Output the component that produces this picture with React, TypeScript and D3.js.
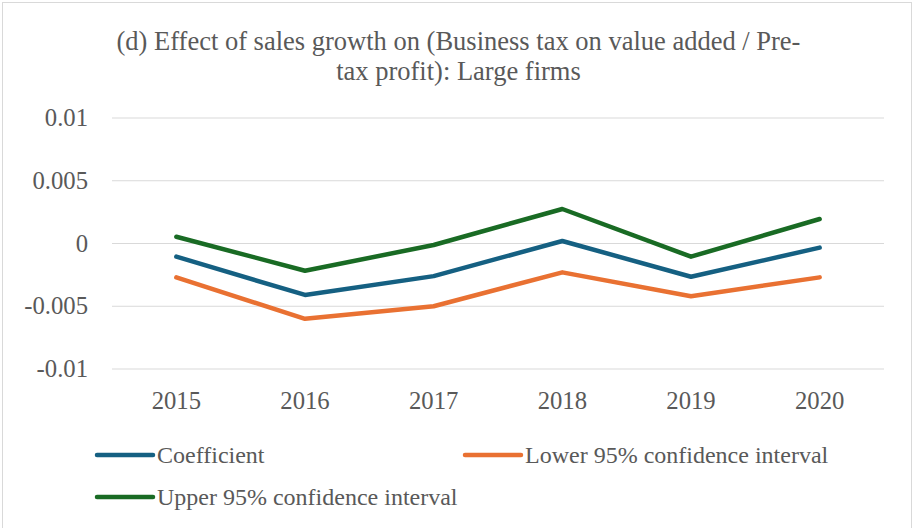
import React from "react";
import * as d3 from "d3";

const years = ["2015", "2016", "2017", "2018", "2019", "2020"];
const coefficient = [-0.00105, -0.0041, -0.0026, 0.0002, -0.00265, -0.00033];
const lower95 = [-0.0027, -0.006, -0.005, -0.0023, -0.0042, -0.0027];
const upper95 = [0.00054, -0.00217, -0.00012, 0.00275, -0.00105, 0.00195];
const yTicks = [0.01, 0.005, 0, -0.005, -0.01];
const yTickLabels = ["0.01", "0.005", "0", "-0.005", "-0.01"];
const titleLines = [
  "(d) Effect of sales growth on (Business tax on value added / Pre-",
  "tax profit): Large firms",
];

const seriesList = [
  { name: "Coefficient", values: coefficient, color: "#156082" },
  { name: "Lower 95% confidence interval", values: lower95, color: "#E97132" },
  { name: "Upper 95% confidence interval", values: upper95, color: "#196B24" },
];

const W = 913;
const H = 528;
const TEXT = "#595959";
const FONT = "'Liberation Serif', 'Times New Roman', serif";

export default function App() {
  const x = d3.scaleBand<string>().domain(years).range([112, 884]).padding(0);
  const y = d3.scaleLinear().domain([-0.01, 0.01]).range([369, 118]);
  const line = d3
    .line<number>()
    .x((_, i) => (x(years[i]) as number) + x.bandwidth() / 2)
    .y((v) => y(v));

  const legendPos = [
    { lx: 97, ly: 455 },
    { lx: 465, ly: 455 },
    { lx: 97, ly: 497 },
  ];
  const ts = { fontFamily: FONT };

  return (
    <svg
      width={W}
      height={H}
      style={{ position: "absolute", left: 0, top: 0, background: "#fff" }}
    >
      <rect x={2.5} y={2.5} width={909} height={540} fill="#fff" stroke="#d9d9d9" strokeWidth={1} />
      {titleLines.map((t, i) => (
        <text key={i} x={458.5} y={50 + i * 30} textAnchor="middle" fontSize={26.5} fill={TEXT} style={ts}>
          {t}
        </text>
      ))}
      {yTicks.map((t, i) => (
        <g key={i}>
          <line x1={112} x2={884} y1={y(t)} y2={y(t)} stroke="#d9d9d9" strokeWidth={1.2} />
          <text x={88} y={y(t) + 8} textAnchor="end" fontSize={24.7} fill={TEXT} style={ts}>
            {yTickLabels[i]}
          </text>
        </g>
      ))}
      {years.map((yr) => (
        <text
          key={yr}
          x={(x(yr) as number) + x.bandwidth() / 2}
          y={408.5}
          textAnchor="middle"
          fontSize={24.7}
          fill={TEXT}
          style={ts}
        >
          {yr}
        </text>
      ))}
      {seriesList.map((s) => (
        <path
          key={s.name}
          d={line(s.values) || ""}
          fill="none"
          stroke={s.color}
          strokeWidth={4.5}
          strokeLinecap="round"
          strokeLinejoin="round"
        />
      ))}
      {seriesList.map((s, i) => (
        <g key={s.name}>
          <line
            x1={legendPos[i].lx}
            x2={legendPos[i].lx + 56}
            y1={legendPos[i].ly}
            y2={legendPos[i].ly}
            stroke={s.color}
            strokeWidth={4.5}
            strokeLinecap="round"
          />
          <text x={legendPos[i].lx + 60} y={legendPos[i].ly + 8} fontSize={24} fill={TEXT} style={ts}>
            {s.name}
          </text>
        </g>
      ))}
    </svg>
  );
}
